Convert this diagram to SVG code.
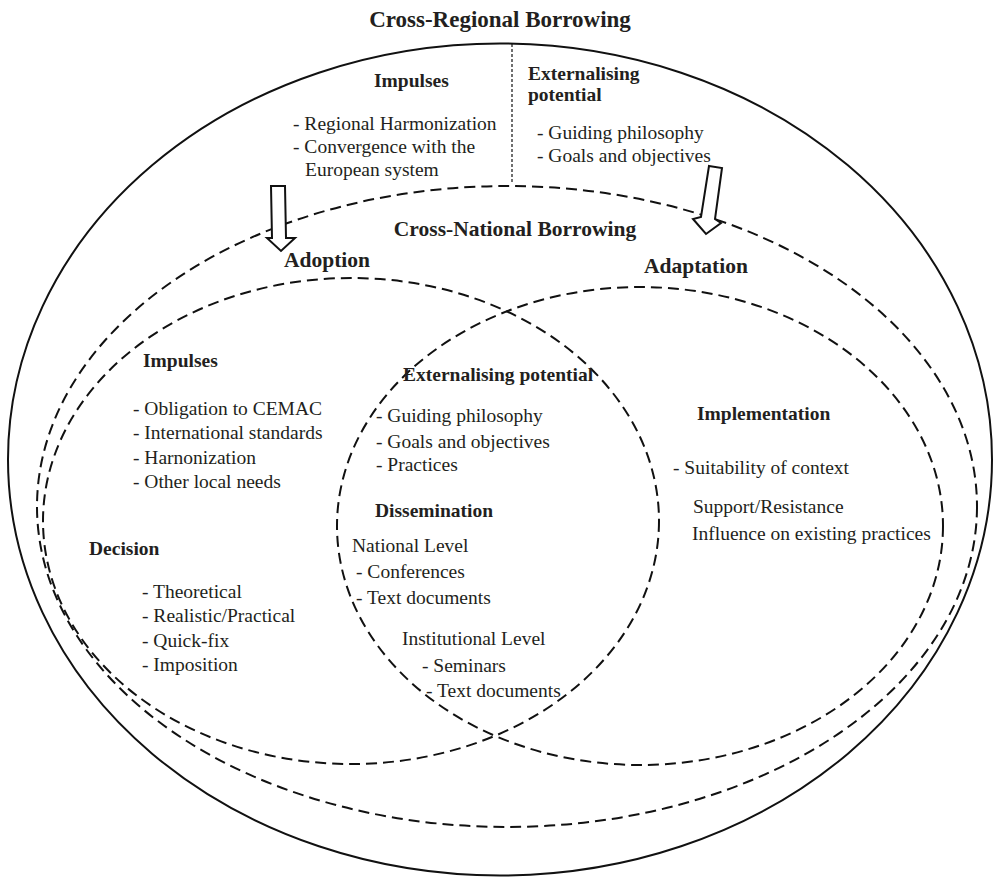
<svg xmlns="http://www.w3.org/2000/svg" width="995" height="879" viewBox="0 0 995 879">
<style>
text{font-family:"Liberation Serif","Times New Roman",serif;fill:#231f20;font-size:19.5px}
.b{font-weight:bold}
.h{font-weight:bold;font-size:21.5px}
.dash{fill:none;stroke:#111;stroke-width:2;stroke-dasharray:11 6}
.solid{fill:none;stroke:#111;stroke-width:2}
.arrow{fill:#fff;stroke:#111;stroke-width:2;stroke-linejoin:miter}
</style>
<rect width="995" height="879" fill="#fff"/>
<g id="cross-regional">
<ellipse class="solid" cx="500" cy="459.5" rx="492" ry="416"/>
<line x1="512" y1="44" x2="512" y2="182" stroke="#111" stroke-width="1.2" stroke-dasharray="3 2"/>
<text class="b" x="500" y="27" text-anchor="middle" style="font-size:23px">Cross-Regional Borrowing</text>
<text class="b" x="374" y="87">Impulses</text>
<text x="293" y="130">- Regional Harmonization</text>
<text x="293" y="153">- Convergence with the</text>
<text x="305" y="176">European system</text>
<text class="b" x="528" y="80">Externalising</text>
<text class="b" x="528" y="101">potential</text>
<text x="537" y="139">- Guiding philosophy</text>
<text x="537" y="162">- Goals and objectives</text>
</g>
<g id="cross-national">
<ellipse class="dash" cx="507" cy="506.5" rx="470" ry="320.5"/>
<text class="h" x="515" y="236" text-anchor="middle">Cross-National Borrowing</text>
</g>
<g id="adoption">
<ellipse class="dash" cx="351" cy="521" rx="308" ry="243"/>
<text class="h" x="284" y="267">Adoption</text>
<text class="b" x="143" y="367">Impulses</text>
<text x="133" y="415">- Obligation to CEMAC</text>
<text x="133" y="439">- International standards</text>
<text x="133" y="464">- Harnonization</text>
<text x="133" y="488">- Other local needs</text>
<text class="b" x="89" y="555">Decision</text>
<text x="142" y="598">- Theoretical</text>
<text x="142" y="622">- Realistic/Practical</text>
<text x="142" y="647">- Quick-fix</text>
<text x="142" y="671">- Imposition</text>
</g>
<g id="adaptation">
<ellipse class="dash" cx="640" cy="526" rx="303" ry="239"/>
<text class="h" x="644" y="273">Adaptation</text>
<text class="b" x="697" y="420">Implementation</text>
<text x="673" y="474">- Suitability of context</text>
<text x="693" y="513">Support/Resistance</text>
<text x="692" y="540">Influence on existing practices</text>
</g>
<g id="overlap">
<text class="b" x="403" y="381">Externalising potential</text>
<text x="376" y="422">- Guiding philosophy</text>
<text x="376" y="448">- Goals and objectives</text>
<text x="376" y="471">- Practices</text>
<text class="b" x="375" y="517">Dissemination</text>
<text x="352" y="552">National Level</text>
<text x="356" y="578">- Conferences</text>
<text x="356" y="604">- Text documents</text>
<text x="402" y="645">Institutional Level</text>
<text x="422" y="672">- Seminars</text>
<text x="426" y="697">- Text documents</text>
</g>
<g id="connectors">
<polygon class="arrow" points="271,186 285,186 286,238 295,238 281,251 267,238 272,238"/>
<polygon class="arrow" points="709,166 722,168 715,219 721,223 706,234 693,219 701,217"/>
</g>
</svg>
